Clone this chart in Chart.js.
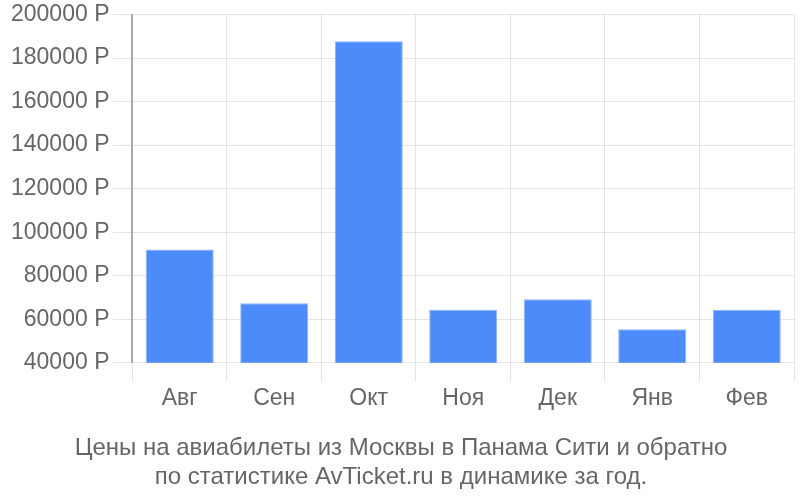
<!DOCTYPE html>
<html>
<head>
<meta charset="utf-8">
<script src="https://cdn.jsdelivr.net/npm/chart.js@4"></script>
<style>
  body { margin: 0; background: #fff; }
</style>
</head>
<body>
<canvas id="priceChart" width="800" height="500"></canvas>
<script>
// Months and average ticket price (rubles)
const months = ['Авг', 'Сен', 'Окт', 'Ноя', 'Дек', 'Янв', 'Фев']
const prices = [92000, 67300, 187700, 64400, 69200, 55400, 64400]
const titleLines = ['Цены на авиабилеты из Москвы в Панама Сити и обратно', 'по статистике AvTicket.ru в динамике за год.']

Chart.defaults.font.family = '"Liberation Sans", Arial, sans-serif'
Chart.defaults.color = '#666'

const myChart = new Chart(document.getElementById('priceChart'), {
    type: 'bar',
    data: {
        labels: months,
        datasets: [{
            data: prices,
            backgroundColor: '#4d8bfa',
            borderColor: '#8db4fb',
            borderWidth: 1,
            categoryPercentage: 0.72,
            barPercentage: 1
        }]
    },
    options: {
        responsive: false,
        devicePixelRatio: 1,
        animation: false,
        layout: { padding: { top: 2, right: 6, left: 8, bottom: 8 } },
        plugins: {
            legend: { display: false },
            tooltip: { enabled: false },
            title: {
                display: true,
                position: 'bottom',
                text: titleLines,
                color: '#666',
                font: { size: 24, weight: 'normal', lineHeight: 1.2 },
                padding: { top: 19, bottom: 0 }
            }
        },
        scales: {
            x: {
                grid: { offset: true, color: 'rgba(0,0,0,0.1)', tickLength: 19, drawTicks: true },
                border: { display: false },
                ticks: { font: { size: 23, lineHeight: 1.2 }, color: '#666', padding: 3 }
            },
            y: {
                min: 40000,
                max: 200000,
                grid: { color: 'rgba(0,0,0,0.1)', tickLength: 20 },
                border: { display: true, color: '#aaa', width: 2 },
                ticks: {
                    stepSize: 20000,
                    font: { size: 23, lineHeight: 1.0 },
                    color: '#666',
                    padding: 3,
                    callback: v => v + ' Р'
                }
            }
        }
    }
})
</script>
</body>
</html>
